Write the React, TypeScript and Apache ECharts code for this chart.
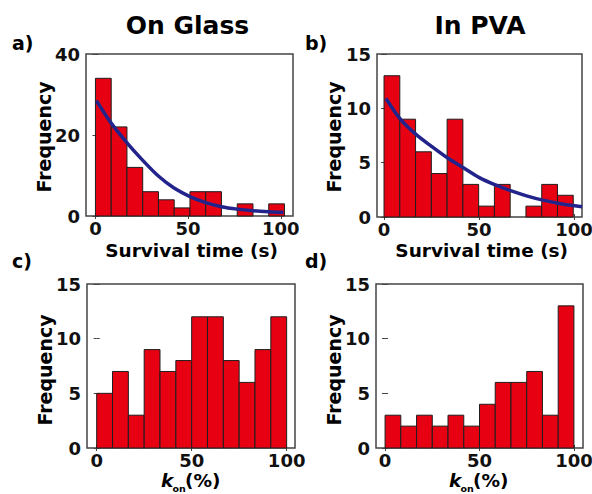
import React, { useEffect, useRef } from "react";
import * as echarts from "echarts";

const FONT = '"DejaVu Sans", "Liberation Sans", sans-serif';
const BAR_RED = "#e60012";
const BAR_EDGE = "#1e1e1e";
const FIT_BLUE = "#22248c";
const FRAME = "#444444";
const TEXT = "#111111";

// Survival-time histograms (bin edges in s, counts)
const glassTimeEdges = [0, 8.5, 17, 25.5, 34, 42.5, 51, 59.5, 68, 76.5, 85, 93.5, 102];
const glassTimeCounts = [34, 22, 12, 6, 4, 2, 6, 6, 0, 3, 0, 3];
const pvaTimeEdges = [0, 8.3, 16.6, 24.9, 33.2, 41.5, 49.8, 58.1, 66.4, 74.7, 83, 91.3, 99.6];
const pvaTimeCounts = [13, 9, 6, 4, 9, 3, 1, 3, 0, 1, 3, 2];

// k_on histograms (bin edges in %, counts)
const konEdges = [0, 8.33, 16.67, 25, 33.33, 41.67, 50, 58.33, 66.67, 75, 83.33, 91.67, 100];
const glassKonCounts = [5, 7, 3, 9, 7, 8, 12, 12, 8, 6, 9, 12];
const pvaKonCounts = [3, 2, 3, 2, 3, 2, 4, 6, 6, 7, 3, 13];

// Exponential fits to the survival-time histograms
const glassFitX = [0.5, 8.4, 16.8, 25.4, 34.1, 42.4, 51, 59.5, 68, 76.5, 85, 93.5, 101.4];
const glassFitY = [28.5, 23.0, 18.2, 13.8, 9.8, 6.9, 4.8, 3.3, 2.3, 1.7, 1.3, 1.05, 0.9];
const pvaFitX = [1, 8.6, 16.8, 25, 33.7, 42, 50.4, 58.6, 67, 75, 83.7, 92.3, 104.3];
const pvaFitY = [10.9, 9.0, 7.6, 6.5, 5.4, 4.5, 3.6, 2.95, 2.4, 1.95, 1.55, 1.25, 0.95];

const xTicks = [0, 50, 100];

function histData(edges: number[], counts: number[]) {
  return counts.map((c, i) => [edges[i], edges[i + 1], c]);
}

function fitData(xs: number[], ys: number[]) {
  return xs.map((x, i) => [x, ys[i]]);
}

const renderBin = (_params: any, api: any) => {
  const count = api.value(2);
  if (!count) return null;
  const p0 = api.coord([api.value(0), 0]);
  const p1 = api.coord([api.value(1), count]);
  return {
    type: "rect",
    shape: { x: p0[0], y: p1[1], width: p1[0] - p0[0], height: p0[1] - p1[1] },
    style: { fill: BAR_RED, stroke: BAR_EDGE, lineWidth: 1 },
  };
};

const labelStyle = {
  fontFamily: FONT,
  fontWeight: "bold" as const,
  fontSize: 18,
  color: TEXT,
};

const tickStyle = { inside: true, length: 3, lineStyle: { color: FRAME, width: 1 } };

function xAxes(gridIndex: number, min: number, max: number) {
  return [
    {
      type: "value",
      gridIndex,
      min,
      max,
      position: "bottom",
      axisLine: { show: false },
      splitLine: { show: false },
      axisTick: { ...tickStyle, customValues: xTicks },
      axisLabel: { ...labelStyle, margin: 3, customValues: xTicks },
    },
    {
      type: "value",
      gridIndex,
      min,
      max,
      position: "top",
      axisLine: { show: false },
      splitLine: { show: false },
      axisTick: { ...tickStyle, customValues: xTicks },
      axisLabel: { show: false },
    },
  ];
}

function yAxes(gridIndex: number, max: number, interval: number) {
  return [
    {
      type: "value",
      gridIndex,
      min: 0,
      max,
      interval,
      position: "left",
      axisLine: { show: false },
      splitLine: { show: false },
      axisTick: tickStyle,
      axisLabel: { ...labelStyle, margin: 6 },
    },
    {
      type: "value",
      gridIndex,
      min: 0,
      max,
      interval,
      position: "right",
      axisLine: { show: false },
      splitLine: { show: false },
      axisTick: tickStyle,
      axisLabel: { show: false },
    },
  ];
}

function textEl(text: string, x: number, y: number, size: number, extra: any = {}) {
  return {
    type: "text",
    x,
    y,
    rotation: extra.rotation || 0,
    style: {
      text,
      fontFamily: FONT,
      fontWeight: "bold",
      fontStyle: extra.italic ? "italic" : "normal",
      fontSize: size,
      fill: "#000",
      align: extra.align || "center",
      verticalAlign: "middle",
    },
  };
}

// k_on(%) axis title: italic k, subscript "on", then the unit
function konLabel(x: number) {
  return [
    textEl("k", x, 480, 18.5, { italic: true, align: "left" }),
    textEl("on", x + 11.5, 488.5, 9.5, { align: "left" }),
    textEl("(%)", x + 24, 480, 18.5, { align: "left" }),
  ];
}

export default function App() {
  const ref = useRef<HTMLDivElement>(null);

  useEffect(() => {
    if (!ref.current) return;
    const chart = echarts.init(ref.current, undefined, { renderer: "svg" });

    const grid = (left: number, top: number, width: number, height: number) => ({
      left,
      top,
      width,
      height,
      show: true,
      borderColor: FRAME,
      borderWidth: 1.5,
      backgroundColor: "transparent",
      containLabel: false,
      outerBoundsMode: "none",
    });

    const option: any = {
      animation: false,
      backgroundColor: "#ffffff",
      grid: [
        grid(86, 54, 207, 162),
        grid(377, 54, 205, 163),
        grid(87, 284, 208, 164),
        grid(376, 284, 207, 164),
      ],
      xAxis: [
        ...xAxes(0, -5.1, 106.6),
        ...xAxes(1, -3.7, 104.2),
        ...xAxes(2, -5.1, 104.4),
        ...xAxes(3, -4.8, 104.8),
      ],
      yAxis: [
        ...yAxes(0, 40, 20),
        ...yAxes(1, 15, 5),
        ...yAxes(2, 15, 5),
        ...yAxes(3, 15, 5),
      ],
      series: [
        {
          type: "custom",
          xAxisIndex: 0,
          yAxisIndex: 0,
          renderItem: renderBin,
          encode: { x: [0, 1], y: 2 },
          data: histData(glassTimeEdges, glassTimeCounts),
        },
        {
          type: "custom",
          xAxisIndex: 2,
          yAxisIndex: 2,
          renderItem: renderBin,
          encode: { x: [0, 1], y: 2 },
          data: histData(pvaTimeEdges, pvaTimeCounts),
        },
        {
          type: "custom",
          xAxisIndex: 4,
          yAxisIndex: 4,
          renderItem: renderBin,
          encode: { x: [0, 1], y: 2 },
          data: histData(konEdges, glassKonCounts),
        },
        {
          type: "custom",
          xAxisIndex: 6,
          yAxisIndex: 6,
          renderItem: renderBin,
          encode: { x: [0, 1], y: 2 },
          data: histData(konEdges, pvaKonCounts),
        },
        {
          type: "line",
          xAxisIndex: 0,
          yAxisIndex: 0,
          smooth: 0.3,
          showSymbol: false,
          z: 5,
          lineStyle: { color: FIT_BLUE, width: 3.5 },
          data: fitData(glassFitX, glassFitY),
        },
        {
          type: "line",
          xAxisIndex: 2,
          yAxisIndex: 2,
          smooth: 0.3,
          showSymbol: false,
          z: 5,
          lineStyle: { color: FIT_BLUE, width: 3.5 },
          data: fitData(pvaFitX, pvaFitY),
        },
      ],
      graphic: [
        textEl("On Glass", 187.5, 25, 25),
        textEl("In PVA", 480, 25, 25),
        textEl("a)", 12, 43, 19, { align: "left" }),
        textEl("b)", 305, 43, 19, { align: "left" }),
        textEl("c)", 12, 260.5, 19, { align: "left" }),
        textEl("d)", 305, 260.5, 19, { align: "left" }),
        textEl("Frequency", 44, 137, 19, { rotation: Math.PI / 2 }),
        textEl("Frequency", 334, 137, 19, { rotation: Math.PI / 2 }),
        textEl("Frequency", 44.5, 370, 19, { rotation: Math.PI / 2 }),
        textEl("Frequency", 334, 370, 19, { rotation: Math.PI / 2 }),
        textEl("Survival time (s)", 191.5, 250.5, 18.5),
        textEl("Survival time (s)", 481.7, 250.5, 18.5),
        ...konLabel(161),
        ...konLabel(449),
      ],
    };

    chart.setOption(option);
    return () => chart.dispose();
  }, []);

  return (
    <div
      ref={ref}
      style={{ position: "absolute", left: 0, top: 0, width: 592, height: 494, background: "#fff" }}
    />
  );
}
